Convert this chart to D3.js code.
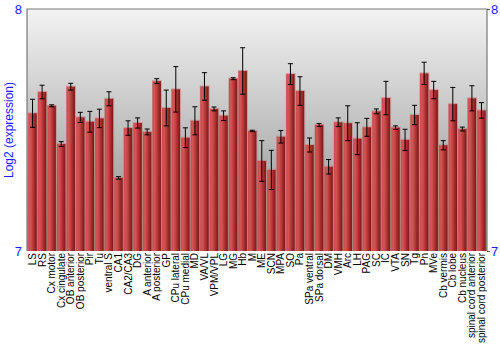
<!DOCTYPE html>
<html>
<head>
  <meta charset="utf-8">
  <style type="text/css">
  body { margin: 0; background: #fff; }
  svg { font-family: "Liberation Sans", Arial, sans-serif; }
  .tick-label { fill: #1a1aff; font-size: 13px; }
  .y-title { fill: #1a1aff; font-size: 12px; }
  .x-label { fill: #000; font-size: 10px; }
  .err line { stroke: #000; stroke-width: 1px; }
  </style>
</head>
<body>
  <script src="https://d3js.org/d3.v7.min.js"></script>
  <script>
  // regions, mean log2 expression, error (half length)
  var regions = ["LS", "RS", "Cx motor", "Cx cingulate", "OB anterior", "OB posterior", "Pir", "Tu",
    "ventral S", "CA1", "CA2/CA3", "DG", "A anterior", "A posterior", "GP", "CPu lateral",
    "CPu medial", "MD", "VA/VL", "VPM/VPL", "LG", "MG", "Hb", "M", "ME", "SCN", "MPA", "SO",
    "Pa", "SPa ventral", "SPa dorsal", "DM", "VMH", "Arc", "LH", "PAG", "SC", "IC", "VTA", "SN",
    "Tg", "Pn", "MVe", "Cb vermis", "Cb lobe", "Cb nucleus", "spinal cord anterior", "spinal cord posterior"];

  var means = [7.569, 7.657, 7.600, 7.442, 7.679, 7.552, 7.534, 7.548,
    7.629, 7.302, 7.508, 7.529, 7.492, 7.702, 7.591, 7.668,
    7.468, 7.538, 7.680, 7.587, 7.559, 7.712, 7.744, 7.496, 7.372, 7.335, 7.472, 7.731,
    7.661, 7.438, 7.521, 7.348, 7.532, 7.528, 7.464, 7.511, 7.577, 7.632, 7.510, 7.459,
    7.562, 7.734, 7.665, 7.437, 7.607, 7.504, 7.631, 7.581];

  var errors = [0.058, 0.028, 0.004, 0.010, 0.014, 0.021, 0.043, 0.038,
    0.029, 0.005, 0.030, 0.021, 0.012, 0.010, 0.074, 0.094,
    0.041, 0.058, 0.057, 0.008, 0.020, 0.004, 0.096, 0.003, 0.084, 0.081, 0.026, 0.043,
    0.059, 0.029, 0.006, 0.030, 0.018, 0.072, 0.066, 0.037, 0.010, 0.069, 0.007, 0.044,
    0.040, 0.046, 0.036, 0.019, 0.069, 0.008, 0.052, 0.032];

  var yTicks = [7, 8];

  var data = regions.map(function(r, i) { return {name: r, mean: means[i], err: errors[i]}; });

  var W = 500, H = 350;
  var pLeft = 27, pRight = 487, pTop = 9, pBottom = 251;

  var svg = d3.select("body").append("svg")
    .attr("width", W)
    .attr("height", H);

  var defs = svg.append("defs");

  var bg = defs.append("linearGradient")
    .attr("id", "bg").attr("x1", 0).attr("y1", 0).attr("x2", 0).attr("y2", 1);
  bg.append("stop").attr("offset", "0%").attr("stop-color", "#f3f3f3");
  bg.append("stop").attr("offset", "100%").attr("stop-color", "#8a8a8a");

  var barGrad = defs.append("linearGradient")
    .attr("id", "barGrad").attr("x1", 0).attr("y1", 0).attr("x2", 1).attr("y2", 0);
  barGrad.append("stop").attr("offset", "0%").attr("stop-color", "#c94a4a");
  barGrad.append("stop").attr("offset", "25%").attr("stop-color", "#d35656");
  barGrad.append("stop").attr("offset", "60%").attr("stop-color", "#b33434");
  barGrad.append("stop").attr("offset", "100%").attr("stop-color", "#7a1616");

  var x = d3.scaleBand()
    .domain(regions)
    .range([pLeft, pRight])
    .paddingInner(0.12)
    .paddingOuter(0.14);

  var y = d3.scaleLinear()
    .domain([7, 8])
    .range([pBottom, pTop]);

  // plot background
  svg.append("rect")
    .attr("x", pLeft).attr("y", pTop)
    .attr("width", pRight - pLeft).attr("height", pBottom - pTop)
    .attr("fill", "url(#bg)");

  // bar shadows
  svg.selectAll(".shadow")
    .data(data)
  .enter().append("rect")
    .attr("class", "shadow")
    .attr("x", function(d) { return x(d.name) - 0.5; })
    .attr("y", function(d) { return y(d.mean) - 1; })
    .attr("width", x.bandwidth() + 1.5)
    .attr("height", function(d) { return pBottom - y(d.mean) + 1; })
    .attr("fill", "rgba(200,120,120,0.55)");

  // bars
  svg.selectAll(".bar")
    .data(data)
  .enter().append("rect")
    .attr("class", "bar")
    .attr("x", function(d) { return x(d.name); })
    .attr("y", function(d) { return y(d.mean); })
    .attr("width", x.bandwidth())
    .attr("height", function(d) { return pBottom - y(d.mean); })
    .attr("fill", "url(#barGrad)");

  // error bars
  var err = svg.selectAll(".err")
    .data(data)
  .enter().append("g")
    .attr("class", "err")
    .attr("transform", function(d) { return "translate(" + (x(d.name) + x.bandwidth() / 2) + ",0)"; });

  err.append("line")
    .attr("y1", function(d) { return y(d.mean + d.err); })
    .attr("y2", function(d) { return y(d.mean - d.err); });
  err.append("line")
    .attr("x1", -2.5).attr("x2", 2.5)
    .attr("y1", function(d) { return y(d.mean + d.err); })
    .attr("y2", function(d) { return y(d.mean + d.err); });
  err.append("line")
    .attr("x1", -2.5).attr("x2", 2.5)
    .attr("y1", function(d) { return y(d.mean - d.err); })
    .attr("y2", function(d) { return y(d.mean - d.err); });

  // frame
  svg.append("path")
    .attr("d", "M" + pLeft + "," + pBottom + "V" + pTop + "H" + pRight + "V" + pBottom)
    .attr("fill", "none")
    .attr("stroke", "#777")
    .attr("stroke-width", 1.2);

  // y axes (left and right)
  var yLeft = d3.axisLeft(y).tickValues(yTicks).tickFormat(d3.format("d")).tickSize(0).tickPadding(5);
  var yRight = d3.axisRight(y).tickValues(yTicks).tickFormat(d3.format("d")).tickSize(3).tickPadding(1);

  var gl = svg.append("g").attr("transform", "translate(" + pLeft + ",0)").call(yLeft);
  var gr = svg.append("g").attr("transform", "translate(" + pRight + ",0)").call(yRight);
  [gl, gr].forEach(function(g) {
    g.select(".domain").remove();
    g.selectAll("text").attr("class", "tick-label").attr("font-family", null).attr("font-size", null);
    g.selectAll("line").attr("stroke", "#555");
  });

  svg.append("text")
    .attr("class", "y-title")
    .attr("transform", "translate(13," + ((pTop + pBottom) / 2) + ") rotate(-90)")
    .attr("text-anchor", "middle")
    .text("Log2 (expression)");

  // x labels
  svg.selectAll(".x-label")
    .data(regions)
  .enter().append("text")
    .attr("class", "x-label")
    .attr("text-anchor", "end")
    .attr("transform", function(d) {
      return "translate(" + (x(d) + x.bandwidth() / 2) + "," + (pBottom + 2) + ") rotate(-90)";
    })
    .attr("dy", "0.35em")
    .text(function(d) { return d; });
  </script>
</body>
</html>
